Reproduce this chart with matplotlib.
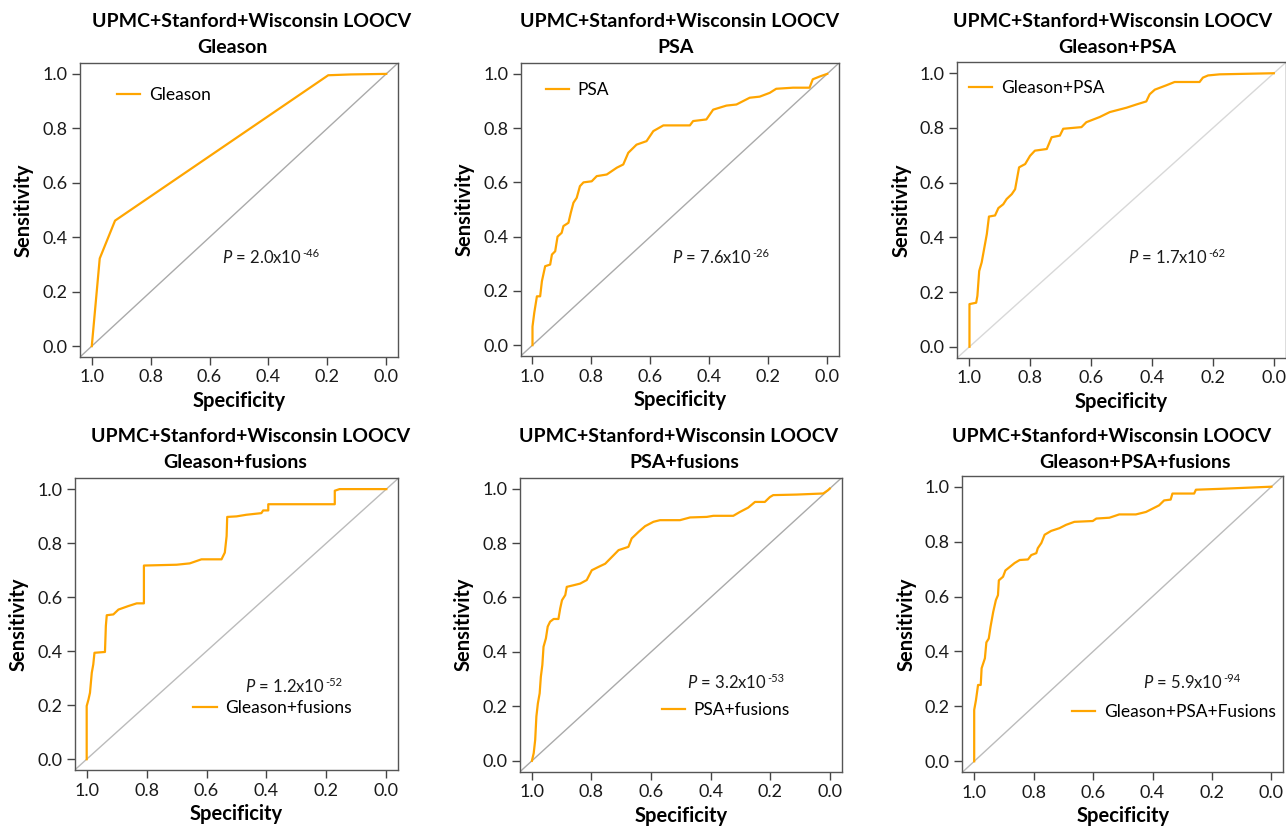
import matplotlib
matplotlib.use("Agg")
import matplotlib.pyplot as plt

plt.rcParams['font.family'] = ['Lato', 'DejaVu Sans']
plt.rcParams['mathtext.fontset'] = 'custom'
plt.rcParams['mathtext.rm'] = 'Lato'
plt.rcParams['mathtext.it'] = 'Lato:italic'

ORANGE = '#FFA500'

# ---- data (specificity, sensitivity) ----
gleason_spec = [1.0, 0.973, 0.921, 0.197, 0.12, 0.0]
gleason_sens = [0.0, 0.322, 0.461, 0.995, 0.998, 1.0]

psa_spec = [1.0, 1.0, 0.994, 0.985, 0.974, 0.968, 0.957, 0.94, 0.934, 0.923, 0.915, 0.901,
            0.895, 0.878, 0.87, 0.861, 0.85, 0.839, 0.827, 0.799, 0.782, 0.748, 0.714, 0.692,
            0.675, 0.647, 0.613, 0.59, 0.556, 0.466, 0.455, 0.41, 0.387, 0.342, 0.308, 0.263,
            0.229, 0.195, 0.173, 0.116, 0.06, 0.049, 0.026, 0.0]
psa_sens = [0.0, 0.068, 0.119, 0.18, 0.18, 0.236, 0.291, 0.297, 0.334, 0.346, 0.40, 0.414,
            0.439, 0.451, 0.488, 0.525, 0.543, 0.586, 0.60, 0.604, 0.623, 0.629, 0.654, 0.666,
            0.709, 0.739, 0.752, 0.789, 0.81, 0.81, 0.826, 0.832, 0.868, 0.883, 0.887, 0.912,
            0.916, 0.93, 0.945, 0.949, 0.949, 0.98, 0.99, 1.0]

gp_spec = [1.0, 1.0, 0.978, 0.974, 0.968, 0.96, 0.952, 0.943, 0.936, 0.916, 0.905, 0.889,
           0.878, 0.861, 0.85, 0.845, 0.837, 0.817, 0.801, 0.785, 0.746, 0.73, 0.703, 0.692,
           0.632, 0.616, 0.572, 0.539, 0.484, 0.451, 0.419, 0.408, 0.391, 0.353, 0.326, 0.244,
           0.233, 0.216, 0.178, 0.0]
gp_sens = [0.0, 0.156, 0.161, 0.186, 0.277, 0.308, 0.357, 0.412, 0.476, 0.48, 0.507, 0.521,
           0.54, 0.558, 0.576, 0.607, 0.656, 0.668, 0.698, 0.717, 0.723, 0.766, 0.772, 0.797,
           0.803, 0.821, 0.84, 0.858, 0.874, 0.886, 0.897, 0.923, 0.94, 0.956, 0.968, 0.968,
           0.984, 0.992, 0.996, 1.0]

gf_spec = [1.0, 1.0, 0.994, 0.989, 0.983, 0.978, 0.974, 0.939, 0.936, 0.933, 0.911, 0.894,
           0.861, 0.833, 0.809, 0.809, 0.7, 0.656, 0.617, 0.55, 0.539, 0.533, 0.531, 0.5,
           0.467, 0.417, 0.411, 0.394, 0.394, 0.172, 0.172, 0.156, 0.0]
gf_sens = [0.0, 0.197, 0.221, 0.246, 0.32, 0.351, 0.394, 0.397, 0.494, 0.533, 0.536, 0.554,
           0.567, 0.577, 0.577, 0.717, 0.72, 0.725, 0.74, 0.74, 0.765, 0.826, 0.897, 0.899,
           0.905, 0.911, 0.921, 0.921, 0.944, 0.944, 0.994, 1.0, 1.0]

pf_spec = [1.0, 0.994, 0.989, 0.985, 0.98, 0.974, 0.97, 0.965, 0.961, 0.953, 0.947, 0.939,
           0.927, 0.911, 0.905, 0.899, 0.888, 0.883, 0.86, 0.838, 0.816, 0.799, 0.777, 0.754,
           0.726, 0.709, 0.676, 0.665, 0.642, 0.62, 0.592, 0.57, 0.503, 0.469, 0.413, 0.391,
           0.324, 0.302, 0.274, 0.251, 0.218, 0.201, 0.19, 0.112, 0.022, 0.006, 0.0]
pf_sens = [0.0, 0.028, 0.077, 0.163, 0.211, 0.248, 0.309, 0.352, 0.419, 0.45, 0.493, 0.511,
           0.521, 0.521, 0.56, 0.59, 0.609, 0.639, 0.645, 0.651, 0.664, 0.7, 0.712, 0.724,
           0.755, 0.774, 0.786, 0.817, 0.841, 0.862, 0.878, 0.884, 0.884, 0.894, 0.896, 0.9,
           0.9, 0.914, 0.93, 0.951, 0.951, 0.969, 0.976, 0.978, 0.982, 0.994, 1.0]

gpf_spec = [1.0, 1.0, 0.994, 0.987, 0.978, 0.975, 0.964, 0.959, 0.951, 0.945, 0.936, 0.927,
            0.92, 0.917, 0.903, 0.895, 0.88, 0.864, 0.847, 0.819, 0.808, 0.791, 0.786, 0.774,
            0.763, 0.741, 0.713, 0.691, 0.663, 0.601, 0.589, 0.545, 0.512, 0.456, 0.422, 0.4,
            0.378, 0.361, 0.339, 0.333, 0.26, 0.254, 0.176, 0.087, 0.0]
gpf_sens = [0.0, 0.187, 0.223, 0.278, 0.278, 0.339, 0.375, 0.433, 0.447, 0.49, 0.544, 0.587,
            0.605, 0.659, 0.672, 0.695, 0.708, 0.722, 0.733, 0.735, 0.751, 0.758, 0.776, 0.795,
            0.825, 0.839, 0.849, 0.861, 0.872, 0.875, 0.884, 0.887, 0.899, 0.899, 0.908, 0.92,
            0.932, 0.95, 0.953, 0.975, 0.975, 0.989, 0.992, 0.996, 1.0]

subtitles = ['Gleason', 'PSA', 'Gleason+PSA', 'Gleason+fusions', 'PSA+fusions', 'Gleason+PSA+fusions']
legend_labels = ['Gleason', 'PSA', 'Gleason+PSA', 'Gleason+fusions', 'PSA+fusions', 'Gleason+PSA+Fusions']
p_mantissa = ['2.0', '7.6', '1.7', '1.2', '3.2', '5.9']
p_exponent = ['-46', '-26', '-62', '-52', '-53', '-94']
curves = [(gleason_spec, gleason_sens), (psa_spec, psa_sens), (gp_spec, gp_sens),
          (gf_spec, gf_sens), (pf_spec, pf_sens), (gpf_spec, gpf_sens)]

# ---- layout (pixels in a 1286x827 canvas) ----
W, H = 1286, 827
# axes boxes: left, top, right, bottom
boxes = [(80, 63, 398, 357), (520.7, 63, 839, 356), (957.3, 62.3, 1286, 357.7),
         (74.7, 478.3, 398.3, 770), (520, 477.7, 841.7, 771.7), (962.3, 475.7, 1283.3, 772.3)]
title1_x = [251.5, 679.5, 1112.5, 251, 678.5, 1112]
title2_x = [232, 675.5, 1117, 235.5, 684, 1135]
title_y = [(27, 53)] * 3 + [(442, 468)] * 3
legend_pos = [(0.116, 0.891), (0.0785, 0.908), (0.0356, 0.913),
              (0.366, 0.2125), (0.44, 0.21), (0.341, 0.204)]
ptext_pos = [(0.446, 0.32), (0.475, 0.317), (0.519, 0.32),
             (0.526, 0.268), (0.518, 0.285), (0.562, 0.285)]
diag_color = ['#aaaaaa', '#aaaaaa', '#d8d8d8', '#bbbbbb', '#aaaaaa', '#bbbbbb']

fig = plt.figure(figsize=(W / 100, H / 100), dpi=100)

for i in range(6):
    l, t, r, b = boxes[i]
    ax = fig.add_axes([l / W, 1 - b / H, (r - l) / W, (b - t) / H])
    spec, sens = curves[i]
    ax.axline((0, 1), (1, 0), color=diag_color[i], lw=1.0, zorder=1)
    ax.plot(spec, sens, color=ORANGE, lw=1.6, label=legend_labels[i], zorder=3)
    ax.set_xlim(1.04, -0.04)
    ax.set_ylim(-0.04, 1.04)
    ax.set_xticks([1.0, 0.8, 0.6, 0.4, 0.2, 0.0])
    ax.set_yticks([0.0, 0.2, 0.4, 0.6, 0.8, 1.0])
    ax.set_xticklabels(['1.0', '0.8', '0.6', '0.4', '0.2', '0.0'])
    ax.set_yticklabels(['0.0', '0.2', '0.4', '0.6', '0.8', '1.0'])
    ax.tick_params(labelsize=13, length=6, width=1, color='#444444', labelcolor='#1a1a1a', pad=3)
    for s in ax.spines.values():
        s.set_color('#555555')
        s.set_linewidth(1.0)
    ax.set_xlabel('Specificity', fontsize=14.5, fontweight='bold', labelpad=4)
    ax.set_ylabel('Sensitivity', fontsize=14.5, fontweight='bold', labelpad=6)
    ax.legend(loc='center left', bbox_to_anchor=legend_pos[i], frameon=False, fontsize=12.5,
              borderpad=0, borderaxespad=0, handlelength=1.35, handletextpad=0.5)
    px, py = ptext_pos[i]
    t_main = ax.text(px, py, r'$\mathit{P}$ = ' + p_mantissa[i] + 'x10',
                     transform=ax.transAxes, fontsize=12, va='baseline', ha='left', color='#1a1a1a')
    ax.annotate(p_exponent[i], xy=(1, 1), xycoords=t_main, xytext=(0.5, 0.5),
                textcoords='offset points', fontsize=8, va='top', ha='left', color='#1a1a1a')

    y1, y2 = title_y[i]
    fig.text(title1_x[i] / W, 1 - y1 / H, 'UPMC+Stanford+Wisconsin LOOCV', ha='center',
             va='baseline', fontsize=14, fontweight='bold')
    fig.text(title2_x[i] / W, 1 - y2 / H, subtitles[i], ha='center', va='baseline',
             fontsize=14, fontweight='bold')

fig.savefig('out.png', dpi=100)
